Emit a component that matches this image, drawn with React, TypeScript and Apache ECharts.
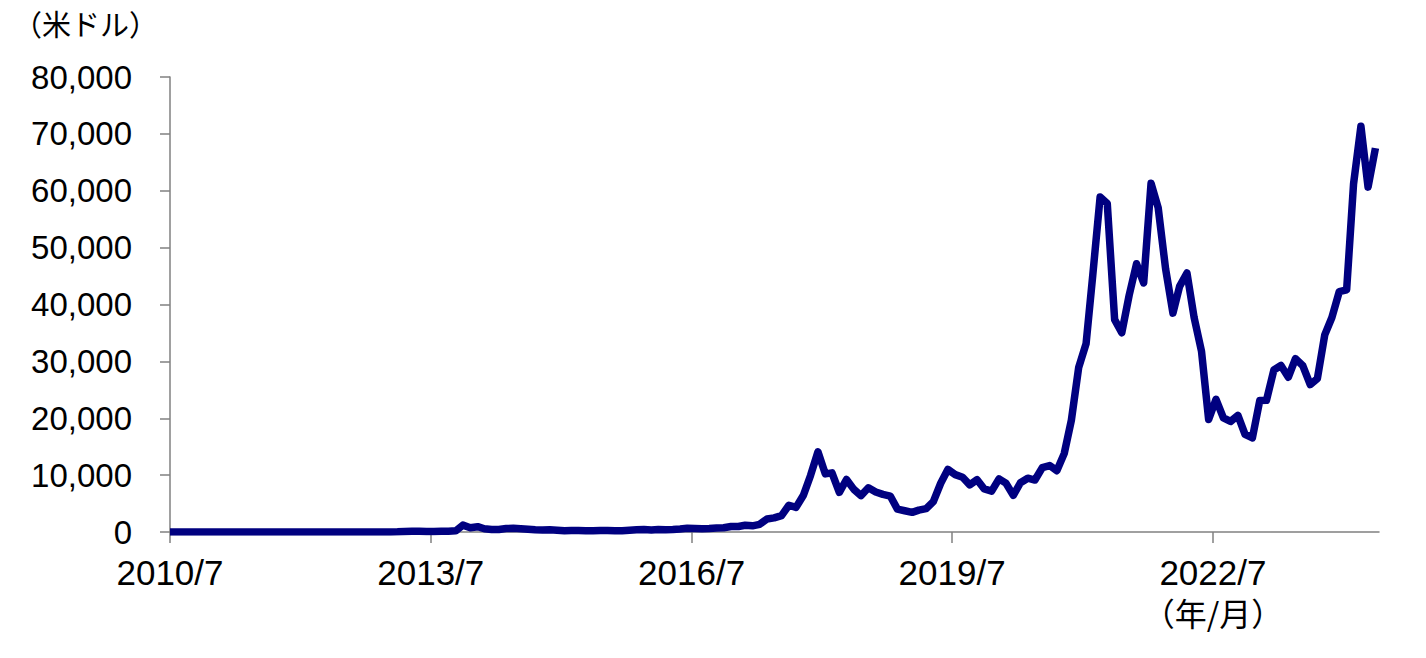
import { useEffect, useRef } from 'react';
import * as echarts from 'echarts';

// first observation of the series, then one close per month-end from 2010/7
const seriesStart = '2010-07-18';
const startPrice = 0.05;
const firstMonth = { year: 2010, month: 7 };
const monthEndPrices = [
  // 2010/7 - 2010/12
  0.07, 0.06, 0.06, 0.19, 0.21, 0.3,
  // 2011
  0.5, 0.9, 0.8, 3.5, 8.7, 16.1, 13.4, 8.2, 5.1, 3.3, 3.0, 4.7,
  // 2012
  5.5, 4.9, 4.9, 5.0, 5.2, 6.7, 9.4, 10.2, 12.4, 11.2, 12.6, 13.5,
  // 2013
  20, 33, 93, 139, 129, 97, 106, 141, 141, 204, 1205, 757,
  // 2014
  935, 573, 457, 447, 628, 640, 586, 480, 387, 338, 378, 320,
  // 2015
  217, 254, 244, 236, 230, 263, 284, 230, 236, 314, 377, 430,
  // 2016
  368, 437, 416, 448, 531, 673, 624, 575, 609, 701, 742, 964,
  // 2017
  970, 1190, 1080, 1348, 2300, 2480, 2875, 4703, 4338, 6468, 9947, 14100,
  // 2018
  10221, 10397, 6973, 9240, 7494, 6404, 7780, 7037, 6625, 6318, 4017, 3742,
  // 2019
  3457, 3854, 4105, 5350, 8574, 11000, 10085, 9630, 8293, 9199, 7569, 7193,
  // 2020
  9350, 8600, 6438, 8658, 9461, 9137, 11323, 11680, 10784, 13781, 19625, 28949,
  // 2021
  33114, 45137, 58918, 57750, 37332, 35041, 41626, 47166, 43790, 61318, 57005, 46306,
  // 2022
  38483, 43194, 45539, 37714, 31792, 19785, 23337, 20050, 19432, 20496, 17168, 16548,
  // 2023
  23139, 23147, 28478, 29268, 27219, 30477, 29230, 25931, 26968, 34667, 37713, 42265,
  // 2024/1 - 2024/5
  42582, 61198, 71333, 60637, 67491,
];

const tickDates = ['2010-07-18', '2013-07-18', '2016-07-18', '2019-07-18', '2022-07-18'];
const tickLabels = ['2010/7', '2013/7', '2016/7', '2019/7', '2022/7'];
const axisEnd = '2024-06-15';

const yMin = 0;
const yMax = 80000;
const yStep = 10000;

const unitY = '（米ドル）';
const unitX = '（年/月）';

const DAY = 86400000;
const toTime = (s: string) => {
  const [y, m, d] = s.split('-').map(Number);
  return Date.UTC(y, m - 1, d);
};
// days elapsed since the first observation
const toDay = (t: number) => Math.round((t - toTime(seriesStart)) / DAY);

const LATIN = '"Liberation Sans", Arial, sans-serif';
const CJK = '"Noto Sans CJK JP", "Liberation Sans", sans-serif';

export default function App() {
  const chartRef = useRef<HTMLDivElement>(null);

  useEffect(() => {
    document.body.style.margin = '0';
    if (!chartRef.current) return;
    const chart = echarts.init(chartRef.current, undefined, { renderer: 'svg' });

    const points: [number, number][] = [[0, startPrice]];
    monthEndPrices.forEach((v, i) => {
      const m0 = firstMonth.month - 1 + i;
      const end = Date.UTC(firstMonth.year + Math.floor(m0 / 12), (m0 % 12) + 1, 0);
      points.push([toDay(end), v]);
    });

    const tickDays = tickDates.map((d) => toDay(toTime(d)));

    chart.setOption({
      animation: false,
      grid: { left: 170, right: 47, top: 77, bottom: 126, containLabel: false },
      graphic: [
        {
          type: 'text',
          left: 13,
          top: 8,
          style: { text: unitY, font: `29px ${CJK}`, fill: '#000' },
        },
      ],
      xAxis: {
        type: 'value',
        min: 0,
        max: toDay(toTime(axisEnd)),
        splitLine: { show: false },
        axisLine: { onZero: false, lineStyle: { color: '#808080', width: 1.5 } },
        axisTick: {
          show: true,
          length: 11,
          customValues: tickDays,
          lineStyle: { color: '#808080', width: 1.5 },
        },
        axisLabel: {
          customValues: tickDays,
          margin: 20,
          color: '#000',
          fontSize: 35,
          fontFamily: LATIN,
          lineHeight: 40,
          formatter: (value: number) => {
            const idx = tickDays.indexOf(value);
            if (idx < 0) return '';
            if (idx === tickLabels.length - 1) return `${tickLabels[idx]}\n{u|${unitX}}`;
            return tickLabels[idx];
          },
          rich: {
            u: { fontSize: 32, fontFamily: CJK, color: '#000', lineHeight: 40 },
          },
        },
      },
      yAxis: {
        type: 'value',
        min: yMin,
        max: yMax,
        interval: yStep,
        splitLine: { show: false },
        axisLine: { show: true, lineStyle: { color: '#808080', width: 1.5 } },
        axisTick: { show: true, length: 10, lineStyle: { color: '#808080', width: 1.5 } },
        axisLabel: {
          margin: 38,
          color: '#000',
          fontSize: 33,
          fontFamily: LATIN,
          formatter: (v: number) => v.toLocaleString('en-US'),
        },
      },
      series: [
        {
          type: 'line',
          data: points,
          showSymbol: false,
          symbol: 'none',
          lineStyle: { color: '#000080', width: 7.5, join: 'round', cap: 'butt' },
        },
      ],
    });

    const resize = () => chart.resize();
    window.addEventListener('resize', resize);
    return () => {
      chart.dispose();
      window.removeEventListener('resize', resize);
    };
  }, []);

  return <div ref={chartRef} style={{ width: 1426, height: 658 }} />;
}
